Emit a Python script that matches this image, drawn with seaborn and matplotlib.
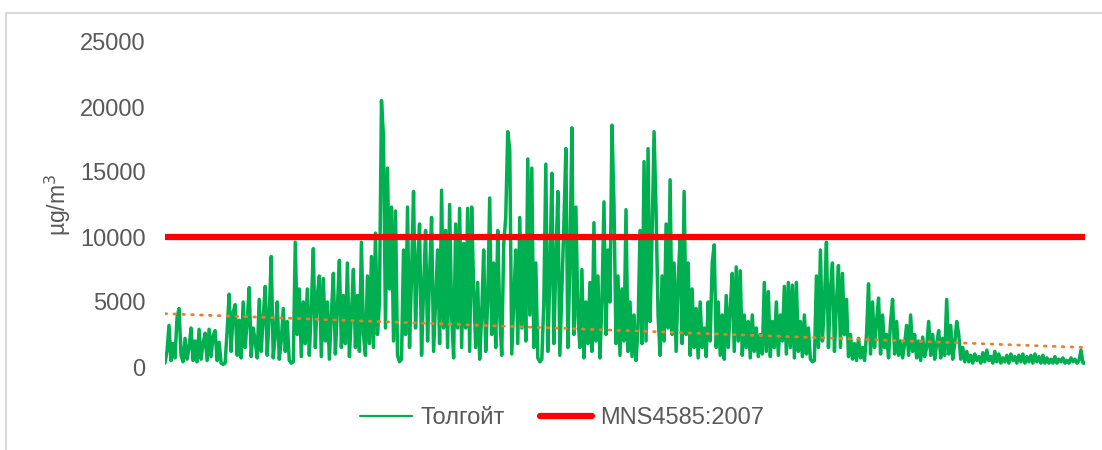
import numpy as np
import pandas as pd
import matplotlib
matplotlib.use("Agg")
import matplotlib.pyplot as plt
import seaborn as sns
from matplotlib.lines import Line2D

# Толгойт station left to right (µg/m3), ~2 px per reading
autumn = [300, 1200, 3200, 500, 1800, 700, 3800, 4500, 900, 400,
          2200, 600, 1500, 3000, 500, 2000, 400, 2900, 600, 1800,
          2600, 500, 2900, 800, 2400, 2800, 500, 1900, 300, 200,
          300, 2800, 5600, 1200, 4200, 4800, 900, 3600, 700, 5000,
          1500, 3500, 6100, 800, 3000, 2000, 700, 5200, 1200, 3800,
          6200, 900, 4000, 8500, 700, 2500, 5000, 600, 2000, 4500,
          1200, 3500, 500, 300, 400, 9600, 2500, 6000, 800, 5000]
early_winter = [1800, 6000, 900, 4500, 9100, 1500, 5500, 7000, 800, 6800,
                2000, 5000, 600, 4000, 7200, 1000, 4500, 8200, 1500, 5500,
                1800, 8000, 800, 4000, 7500, 1500, 5500, 1200, 9600, 2500,
                900, 7000, 1800, 8500, 1500, 10300, 2500, 5000, 20500, 17700,
                3000, 15300, 6000, 12300, 2000, 12000, 900, 400, 600, 9000]
mid_winter = [2500, 12300, 1500, 7000, 13500, 3000, 8000, 11000, 900, 6000,
              10500, 2000, 7000, 11500, 1200, 5000, 9000, 1800, 13600, 3000,
              10500, 1500, 12500, 4000, 700, 11000, 3000, 12200, 1500, 9500,
              3000, 12200, 1200, 12300, 6000, 1500, 6500, 600, 4000, 9000,
              1200, 5000, 13000, 2500, 8000, 1500, 10500, 4000, 900, 9500,
              11500, 18100, 16700, 1000, 5000, 9000, 1800, 11500, 3000, 10000,
              2000, 16000, 4000, 15300, 1500, 8000, 700, 400, 600, 5000]
late_winter = [15600, 1200, 7000, 14900, 1800, 8000, 13500, 900, 6000, 11000,
               16800, 1500, 8000, 18400, 2500, 12300, 4000, 1500, 7500, 700,
               5000, 1800, 6500, 1200, 11100, 2000, 7000, 700, 5000, 12700,
               2500, 9000, 5000, 18600, 12500, 1800, 7000, 900, 6000, 2000,
               12100, 1200, 5000, 800, 4000, 500, 3000, 10500, 1800, 15800,
               2000, 16800, 3500, 10000, 18100, 12000, 4000, 900, 7000, 2000,
               11000, 3000, 14400, 2500, 8000, 1200, 6500, 10000, 1800, 13500]
spring = [2500, 8000, 900, 6000, 1500, 4500, 700, 5000, 1500, 3000,
          800, 5000, 2000, 8000, 9400, 1500, 5000, 900, 4000, 600,
          5500, 1500, 4500, 7200, 1200, 7700, 2000, 7400, 900, 4000,
          1500, 3500, 700, 4000, 1200, 3000, 800, 2500, 1000, 6500,
          1200, 5800, 800, 3500, 1500, 5000, 900, 4000, 2000, 6200,
          1000, 6500, 1500, 6300, 700, 6500, 1200, 3500, 800, 4000,
          1000, 3000, 600, 400, 500, 7000, 1500, 9000, 2000, 5000,
          9600, 1500, 6000, 8000, 1200, 5000, 7800, 1500, 7200, 2500]
late_spring = [5200, 800, 2500, 600, 1800, 500, 2200, 700, 1500, 500,
               2500, 6400, 1000, 5000, 1500, 3500, 5300, 1000, 4000, 1500,
               2500, 700, 3500, 5200, 1000, 3500, 900, 2000, 700, 1800,
               3200, 900, 4000, 1200, 2500, 700, 2000, 500, 2300, 800,
               1500, 3500, 900, 2500, 600, 1800, 2800, 700, 2200, 900,
               5200, 1000, 3200, 600, 1800, 3500, 2500, 600, 1500, 400]
summer = [1200, 400, 900, 300, 1000, 500, 800, 300, 1100, 400,
          1300, 500, 800, 300, 1200, 400, 1000, 300, 700, 400,
          900, 300, 1000, 500, 800, 300, 900, 400, 1000, 300,
          800, 400, 900, 300, 1000, 400, 800, 300, 900, 300,
          700, 300, 600, 300, 800, 300, 600, 400, 700, 300,
          500, 300, 700, 400, 600, 300, 500, 1300, 300, 300]

tolgoit = autumn + early_winter + mid_winter + late_winter + spring + late_spring + summer
standard = 10000           # MNS4585:2007
trend_ends = [4100, 1500]  # Excel linear trendline, first and last point

df = pd.DataFrame({"t": np.arange(len(tolgoit)), "value": tolgoit})

sns.set_style("white")
plt.rcParams["font.family"] = ["Liberation Sans", "DejaVu Sans"]

fig = plt.figure(figsize=(11.02, 4.50), dpi=100)
ax = fig.add_axes([165 / 1102, 83 / 450, 920 / 1102, 325 / 450])

sns.lineplot(data=df, x="t", y="value", ax=ax, color="#00B050", linewidth=2.5)
ax.axhline(standard, color="#FF0000", linewidth=4.5)
ax.plot([0, len(tolgoit) - 1], trend_ends, color="#ED7D31", linewidth=2,
        linestyle=(0, (0.6, 2.6)), dash_capstyle="round")

ax.set_xlim(0, len(tolgoit) - 1)
ax.set_ylim(0, 25000)
ax.set_yticks(range(0, 25001, 5000))
ax.set_xticks([])
ax.set_xlabel("")
ax.set_ylabel("µg/m$^3$", fontsize=16.5, color="#595959")
ax.yaxis.set_label_coords(-0.1, 0.5)
ax.tick_params(axis="y", length=0, pad=14, labelsize=17, labelcolor="#595959")
for s in ax.spines.values():
    s.set_visible(False)

handles = [Line2D([], [], color="#00B050", linewidth=1.6),
           Line2D([], [], color="#FF0000", linewidth=4.5)]
fig.legend(handles, ["Толгойт", "MNS4585:2007"], loc="center", bbox_to_anchor=(562 / 1102, 32 / 450),
           ncol=2, frameon=False, fontsize=17, labelcolor="#595959", handlelength=2.2,
           handletextpad=0.35, columnspacing=1.5)

# chart area border (only top and left edges are inside the crop)
fig.add_artist(Line2D([6 / 1102, 1], [1 - 13 / 450, 1 - 13 / 450], color="#D9D9D9", linewidth=1.5))
fig.add_artist(Line2D([6 / 1102, 6 / 1102], [0, 1 - 13 / 450], color="#D9D9D9", linewidth=1.5))

fig.savefig("out.png", dpi=100)
